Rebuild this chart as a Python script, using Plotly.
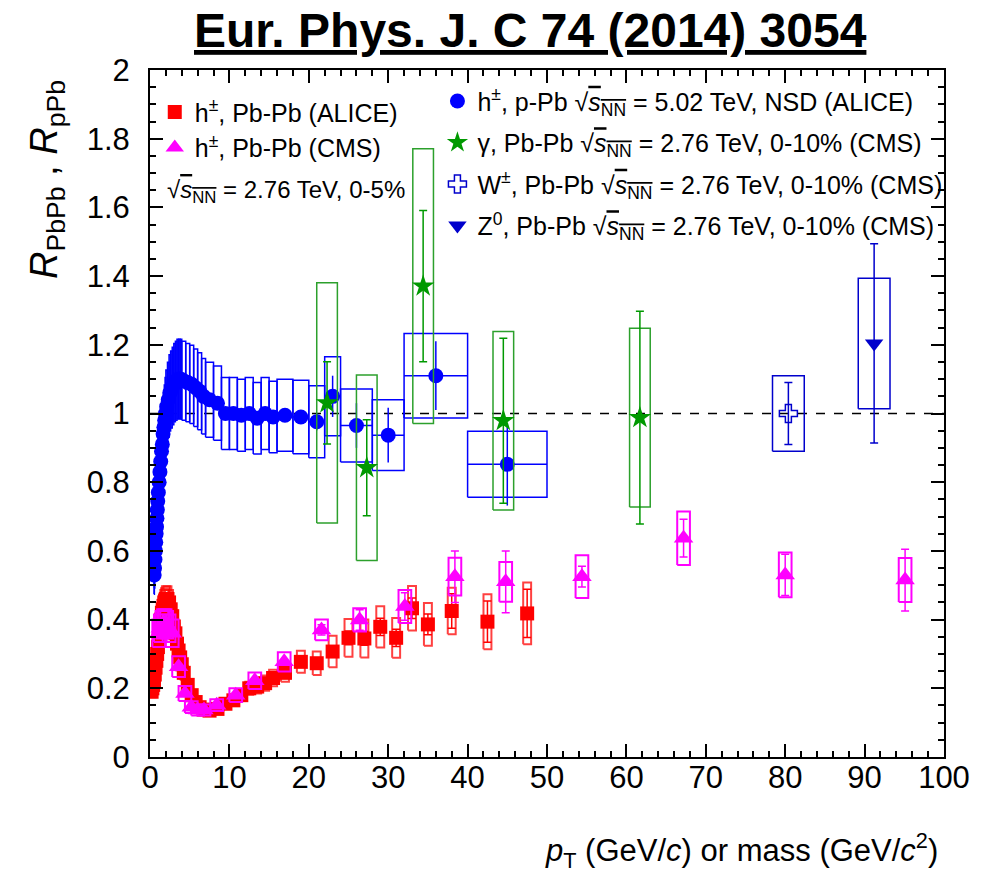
import plotly.graph_objects as go

# ---------------- data ----------------
# h+-, p-Pb sqrt(sNN)=5.02 TeV NSD (ALICE)
blue_pt = [0.525, 0.575, 0.625, 0.675, 0.725, 0.775, 0.825, 0.875, 0.925, 0.975,
           1.05, 1.15, 1.25, 1.35, 1.45, 1.55, 1.65, 1.75, 1.85, 1.95,
           2.1, 2.3, 2.5, 2.7, 2.9, 3.1, 3.3, 3.5, 3.7, 3.9, 4.25, 4.75, 5.25, 5.75, 6.25, 6.75,
           7.5, 8.5, 9.5, 10.5, 11.5, 12.5, 13.5, 14.5, 15.5, 17, 19, 21, 23, 26, 30, 36, 45]
blue_r = [0.53, 0.55, 0.575, 0.60, 0.625, 0.65, 0.67, 0.695, 0.72, 0.745,
          0.77, 0.80, 0.83, 0.86, 0.89, 0.91, 0.94, 0.96, 0.98, 1.0,
          1.02, 1.04, 1.06, 1.07, 1.08, 1.09, 1.095, 1.10, 1.10, 1.10, 1.095, 1.09, 1.085, 1.075, 1.065, 1.05,
          1.04, 1.03, 1.0, 1.0, 0.995, 1.0, 0.986, 1.0, 0.99, 0.995, 0.99, 0.976, 1.05, 0.965, 0.937, 1.11, 0.852]
blue_xerr = [0.025] * 10 + [0.05] * 10 + [0.1] * 10 + [0.25] * 6 + [0.5] * 9 + [1, 1, 1, 1, 2, 2, 4, 5]
blue_stat = [0.005] * 30 + [0.006] * 6 + [0.008, 0.008, 0.01, 0.01, 0.012, 0.012, 0.014, 0.015, 0.016,
                                          0.018, 0.02, 0.025, 0.06, 0.065, 0.08, 0.10, 0.12]
blue_sys = [0.056, 0.058, 0.060, 0.063, 0.066, 0.068, 0.070, 0.073, 0.076, 0.078,
            0.081, 0.084, 0.087, 0.090, 0.093, 0.096, 0.099, 0.100, 0.103, 0.105,
            0.107, 0.109, 0.111, 0.112, 0.113, 0.114, 0.115, 0.116, 0.116, 0.116, 0.115, 0.114, 0.114, 0.113, 0.112, 0.110,
            0.109, 0.108, 0.105, 0.105, 0.105, 0.105, 0.104, 0.105, 0.104, 0.105, 0.107, 0.105, 0.115, 0.106, 0.103, 0.123, 0.096]

# h+-, Pb-Pb 0-5% (ALICE)
red_pt = [0.2, 0.3, 0.4, 0.5, 0.6, 0.7, 0.8, 0.9, 1.0, 1.1, 1.2, 1.3, 1.4, 1.5, 1.6, 1.7, 1.8, 1.9, 2.0,
          2.2, 2.4, 2.6, 2.8, 3.0, 3.2, 3.4, 3.6, 3.8, 4.0, 4.25, 4.75, 5.25, 5.75, 6.25, 6.75,
          7.5, 8.5, 9.5, 10.5, 11.5, 12.5, 13.5, 14.5, 15.5, 17, 19, 21, 23, 25, 27, 29, 31, 33, 35, 38, 42.5, 47.5]
red_r = [0.19, 0.20, 0.21, 0.22, 0.24, 0.26, 0.28, 0.30, 0.32, 0.34, 0.36, 0.38, 0.40, 0.42, 0.43, 0.44, 0.45, 0.455, 0.46,
         0.46, 0.45, 0.43, 0.41, 0.38, 0.36, 0.33, 0.31, 0.29, 0.27, 0.245, 0.21, 0.18, 0.16, 0.145, 0.138,
         0.135, 0.14, 0.155, 0.165, 0.18, 0.20, 0.205, 0.215, 0.23, 0.245, 0.277, 0.273, 0.307, 0.347, 0.345,
         0.379, 0.347, 0.433, 0.386, 0.425, 0.394, 0.418]
red_stat = [0.003] * 35 + [0.004, 0.004, 0.005, 0.005, 0.006, 0.007, 0.008, 0.008, 0.009, 0.01, 0.01, 0.012,
                           0.015, 0.02, 0.02, 0.025, 0.025, 0.03, 0.03, 0.05, 0.06, 0.07]
red_sys = [0.016, 0.016, 0.017, 0.018, 0.019, 0.021, 0.022, 0.024, 0.026, 0.027, 0.029, 0.030, 0.032, 0.034, 0.034,
           0.035, 0.036, 0.036, 0.037, 0.037, 0.036, 0.034, 0.033, 0.030, 0.029, 0.026, 0.025, 0.023, 0.022, 0.020,
           0.017, 0.015, 0.013, 0.012, 0.012, 0.012, 0.013, 0.014, 0.015, 0.017, 0.019, 0.020, 0.022, 0.024, 0.026,
           0.032, 0.034, 0.046, 0.055, 0.055, 0.060, 0.058, 0.065, 0.062, 0.068, 0.080, 0.090]

# h+-, Pb-Pb 0-5% (CMS)
mag_pt = [1.1, 1.3, 1.5, 1.7, 1.9, 2.1, 2.4, 2.8, 3.6, 4.4, 5.2, 6.0, 6.8, 8.4, 10.8, 13.2, 16.9, 21.6,
          26.4, 32.1, 38.4, 44.8, 54.4, 67.2, 80.0, 95.1]
mag_r = [0.36, 0.375, 0.385, 0.39, 0.39, 0.385, 0.375, 0.36, 0.263, 0.185, 0.145, 0.137, 0.137, 0.151, 0.18,
         0.222, 0.277, 0.37, 0.399, 0.438, 0.525, 0.51, 0.525, 0.637, 0.53, 0.515]
mag_stat = [0.003] * 17 + [0.015, 0.03, 0.04, 0.075, 0.09, 0.03, 0.055, 0.06, 0.09]
mag_sys = [0.04, 0.04, 0.04, 0.04, 0.04, 0.04, 0.04, 0.04, 0.03, 0.022, 0.017, 0.016, 0.016, 0.017, 0.02,
           0.024, 0.028, 0.03, 0.034, 0.048, 0.055, 0.058, 0.062, 0.078, 0.065, 0.064]

# gamma, Pb-Pb 0-10% (CMS)
gam_x = [22.3, 27.3, 34.4, 44.5, 61.7]
gam_r = [1.031, 0.842, 1.371, 0.979, 0.988]
gam_stat = [0.12, 0.14, 0.22, 0.24, 0.31]
gam_sys = [0.35, 0.27, 0.40, 0.26, 0.26]

# W+-, Pb-Pb 0-10% (CMS)
w_x = [80.4]
w_r = [1.0]
w_stat = [0.09]
w_sys = [0.11]

# Z0, Pb-Pb 0-10% (CMS)
z_x = [91.2]
z_r = [1.204]
z_stat = [0.29]
z_sys = [0.19]

x_ticks = [0, 10, 20, 30, 40, 50, 60, 70, 80, 90, 100]

# ---------------- helpers ----------------
FONT = "Liberation Sans, Arial, Helvetica, sans-serif"
SQRT = "√<span style='text-decoration:overline'><i>s</i><sub>NN</sub></span>"


def boxes(xs, ys, hws, sys):
    bx, by = [], []
    for x, y, hw, s in zip(xs, ys, hws, sys):
        bx += [x - hw, x + hw, x + hw, x - hw, x - hw, None]
        by += [y - s, y - s, y + s, y + s, y - s, None]
    return bx, by


fig = go.Figure()


def add_boxes(xs, ys, hws, sys, color, width=1.5):
    bx, by = boxes(xs, ys, hws, sys)
    fig.add_trace(go.Scatter(x=bx, y=by, mode="lines", line=dict(color=color, width=width),
                             showlegend=False, hoverinfo="skip"))


# ALICE Pb-Pb
add_boxes(red_pt, red_r, [0.5] * len(red_pt), red_sys, "rgba(255,0,0,0.75)", 2)
fig.add_trace(go.Scatter(x=red_pt, y=red_r, mode="markers", name="h<sup>±</sup>, Pb-Pb (ALICE)",
                         marker=dict(symbol="square", size=14, color="#ff0000"),
                         error_y=dict(type="data", array=red_stat, color="#ff0000", thickness=1.5, width=4),
                         legend="legend", legendgroup="a"))
# CMS Pb-Pb
add_boxes(mag_pt, mag_r, [0.8] * len(mag_pt), mag_sys, "#ff00ff", 2)
fig.add_trace(go.Scatter(x=mag_pt, y=mag_r, mode="markers", name="h<sup>±</sup>, Pb-Pb (CMS)",
                         marker=dict(symbol="triangle-up", size=17, color="#ff00ff"),
                         error_y=dict(type="data", array=mag_stat, color="#ff00ff", thickness=1.5, width=4),
                         legend="legend", legendgroup="b"))
# ALICE p-Pb
add_boxes(blue_pt, blue_r, blue_xerr, blue_sys, "#0000ff", 1.5)
fig.add_trace(go.Scatter(x=blue_pt, y=blue_r, mode="markers",
                         name="h<sup>±</sup>, p-Pb " + SQRT + " = 5.02 TeV, NSD (ALICE)",
                         marker=dict(symbol="circle", size=15, color="#0000ff"),
                         error_y=dict(type="data", array=blue_stat, color="#0000ff", thickness=1.5, width=0),
                         error_x=dict(type="data", array=blue_xerr, color="#0000ff", thickness=1.5, width=0),
                         legend="legend2", legendgroup="c"))
# gamma
add_boxes(gam_x, gam_r, [1.3] * len(gam_x), gam_sys, "#2ca02c", 1.5)
fig.add_trace(go.Scatter(x=gam_x, y=gam_r, mode="markers",
                         name="γ, Pb-Pb " + SQRT + " = 2.76 TeV, 0-10% (CMS)",
                         marker=dict(symbol="star", size=17, color="#009900", line=dict(width=0)),
                         error_y=dict(type="data", array=gam_stat, color="#009900", thickness=1.5, width=4),
                         legend="legend2", legendgroup="d"))
# W
add_boxes(w_x, w_r, [2.0], w_sys, "#0000cc", 1.5)
fig.add_trace(go.Scatter(x=w_x, y=w_r, mode="markers",
                         name="W<sup>±</sup>, Pb-Pb " + SQRT + " = 2.76 TeV, 0-10% (CMS)",
                         marker=dict(symbol="cross-open", size=15, color="#0000cc", line=dict(width=1.5)),
                         error_y=dict(type="data", array=w_stat, color="#0000cc", thickness=1.5, width=4),
                         legend="legend2", legendgroup="e"))
# Z
add_boxes(z_x, z_r, [2.0], z_sys, "#0000cc", 1.5)
fig.add_trace(go.Scatter(x=z_x, y=z_r, mode="markers",
                         name="Z<sup>0</sup>, Pb-Pb " + SQRT + " = 2.76 TeV, 0-10% (CMS)",
                         marker=dict(symbol="triangle-down", size=16, color="#0000cc"),
                         error_y=dict(type="data", array=z_stat, color="#0000cc", thickness=1.5, width=4),
                         legend="legend2", legendgroup="f"))

# reference line at 1
fig.add_shape(type="line", xref="x", yref="y", x0=0, x1=100, y0=1, y1=1,
              line=dict(color="black", width=1.5, dash="dash"), layer="below")

axis_common = dict(showline=True, linecolor="black", linewidth=2, mirror="allticks",
                   ticks="inside", ticklen=13, tickwidth=1.5, tickcolor="black",
                   showgrid=False, zeroline=False,
                   tickfont=dict(family=FONT, size=31, color="black"))

fig.update_xaxes(range=[0, 100], tickvals=x_ticks,
                 minor=dict(dtick=2, ticks="inside", ticklen=6, tickwidth=1.5, tickcolor="black"),
                 ticklabelstandoff=-8, **axis_common)
fig.update_yaxes(range=[0, 2], dtick=0.2,
                 minor=dict(dtick=0.05, ticks="inside", ticklen=6, tickwidth=1.5, tickcolor="black"),
                 ticklabelstandoff=12, **axis_common)

fig.update_layout(
    width=986, height=872,
    margin=dict(l=150, r=42, t=70, b=115),
    paper_bgcolor="white", plot_bgcolor="white",
    font=dict(family=FONT, color="black"),
    legend=dict(x=0.006, y=0.972, xanchor="left", yanchor="top", bgcolor="rgba(0,0,0,0)",
                font=dict(family=FONT, size=25, color="black"), itemsizing="trace",
                traceorder="grouped", tracegroupgap=0),
    legend2=dict(x=0.362, y=0.988, xanchor="left", yanchor="top", bgcolor="rgba(0,0,0,0)",
                 font=dict(family=FONT, size=25, color="black"), itemsizing="trace",
                 traceorder="grouped", tracegroupgap=6),
    annotations=[
        dict(text="<u><b>Eur. Phys. J. C 74 (2014) 3054</b></u>", xref="paper", yref="paper",
             x=0.4786, y=1.058, xanchor="center", yanchor="middle", showarrow=False,
             font=dict(family=FONT, size=48, color="black")),
        dict(text=SQRT + " = 2.76 TeV, 0-5%", xref="paper", yref="paper",
             x=0.019, y=(757 - 191) / 687, xanchor="left", yanchor="middle", showarrow=False,
             font=dict(family=FONT, size=24, color="black")),
        dict(text="<i>R</i><sub>PbPb</sub> , <i>R</i><sub>pPb</sub>", xref="paper", yref="paper",
             x=(47 - 150) / 794, y=(757 - 179) / 687, xanchor="center", yanchor="middle",
             textangle=-90, showarrow=False, font=dict(family=FONT, size=38, color="black")),
        dict(text="<i>p</i><sub>T</sub> (GeV/<i>c</i>) or mass (GeV/<i>c</i><sup>2</sup>)",
             xref="paper", yref="paper", x=(940 - 150) / 794, y=(757 - 850) / 687,
             xanchor="right", yanchor="middle", showarrow=False,
             font=dict(family=FONT, size=31, color="black")),
    ],
)

fig.write_html("out.html")
